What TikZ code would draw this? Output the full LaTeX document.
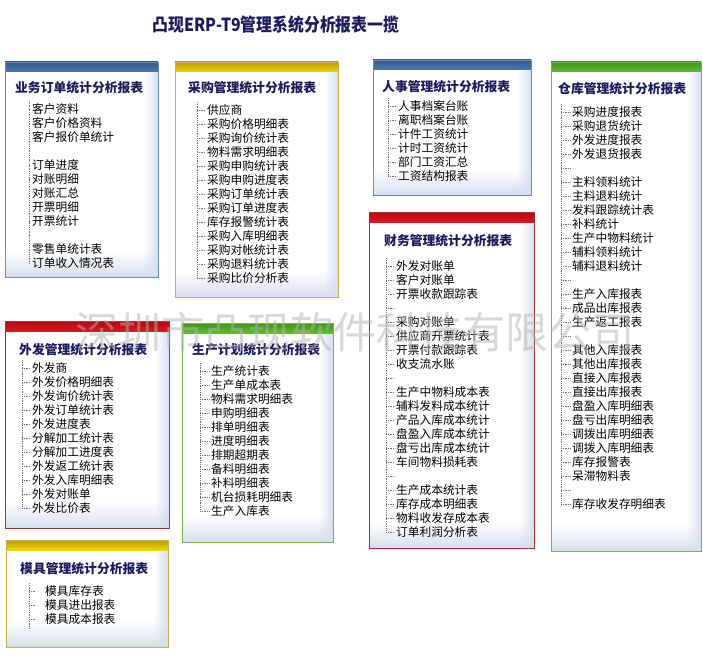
\documentclass[tikz,border=0pt]{standalone}
\usepackage{fontspec}
\setmainfont{Noto Sans CJK SC}
\usetikzlibrary{fadings}

\definecolor{headblue}{HTML}{1A1A5E}
\definecolor{barblue}{HTML}{4A78B4}
\definecolor{baryellow}{HTML}{F2D400}
\definecolor{bargreen}{HTML}{5CC02A}
\definecolor{barred}{HTML}{E4121C}
\definecolor{lineblue}{HTML}{6A8AB4}
\definecolor{lineyellow}{HTML}{C8B24A}
\definecolor{linegreen}{HTML}{6EB84E}
\definecolor{linered}{HTML}{A03434}
\definecolor{panelshade}{HTML}{D6DFF0}

\newcommand{\panel}[6]{%
  \fill[white] (#1,#2) rectangle (#3,#4);
  \fill[panelshade, path fading=north] (#1,#4-26) rectangle (#3,#4);
  \fill[panelshade, path fading=west] (#3-14,#2) rectangle (#3,#4);
  \shade[top color=#5!75!black, bottom color=#5] (#1,#2) rectangle (#3,#2+10);
  \draw[#6] (#1,#2) rectangle (#3,#4);
}

\newcommand{\reportlist}[6][]{%
  \foreach \itm [count=\i] in {#6} {
    \node[item, #1] (#2-\i) at (#4,#5+14*\i-14) {\itm};
    \draw[tree] (#3,#5+14*\i-14) -- (#2-\i.west);
    \xdef\lastrow{\i}
  }
  \draw[tree] (#3,#5-8) -- (#3,#5+14*\lastrow-14);
}

\begin{document}
\begin{tikzpicture}[x=1pt, y=-1pt,
  title/.style={text=headblue, font=\fontsize{18}{20}\selectfont\bfseries, xscale=0.88},
  head/.style={anchor=west, inner sep=0pt, text=headblue, font=\fontsize{12.8}{14}\selectfont\bfseries},
  item/.style={anchor=west, inner xsep=1pt, inner ysep=0pt, font=\fontsize{11.7}{13}\selectfont},
  tree/.style={black!55, line width=0.6pt, dash pattern=on 0.6pt off 1.2pt},
  watermark/.style={text=black!30, text opacity=0.5, font=\fontsize{43}{45}\selectfont}]
\useasboundingbox (0,0) rectangle (703,655);

\node[title] (title) at (276,25) {凸现ERP-T9管理系统分析报表一揽};

\panel{5}{62}{158}{277}{barblue}{lineblue}
\node[head] (order) at (15,88) {业务订单统计分析报表};
\reportlist[inner xsep=2pt]{order}{29}{30}{109}{客户资料,客户价格资料,客户报价单统计,{},订单进度,对账明细,对账汇总,开票明细,开票统计,{},零售单统计表,订单收入情况表}

\panel{175}{62}{338}{297}{baryellow}{lineyellow}
\node[head] (purchase) at (188,88) {采购管理统计分析报表};
\reportlist{purchase}{197}{206}{110}{供应商,采购价格明细表,采购询价统计表,物料需求明细表,采购申购统计表,采购申购进度表,采购订单统计表,采购订单进度表,库存报警统计表,采购入库明细表,采购对帐统计表,采购退料统计表,采购比价分析表}

\panel{373}{60}{531}{195}{barblue}{lineblue}
\node[head] (hr) at (382,87) {人事管理统计分析报表};
\reportlist{hr}{388}{397}{106}{人事档案台账,离职档案台账,计件工资统计,计时工资统计,部门工资汇总,工资结构报表}

\panel{551}{62}{701}{551}{bargreen}{linegreen}
\node[head] (store) at (558,89) {仓库管理统计分析报表};
\reportlist{store}{561}{571}{112}{采购进度报表,采购退货统计,外发进度报表,外发退货报表,{},主料领料统计,主料退料统计,发料跟踪统计表,补料统计,生产中物料统计,辅料领料统计,辅料退料统计,{},生产入库报表,成品出库报表,生产返工报表,{},其他入库报表,其他出库报表,直接入库报表,直接出库报表,盘盈入库明细表,盘亏出库明细表,调拨出库明细表,调拨入库明细表,库存报警表,呆滞物料表,{},库存收发存明细表}

\panel{369}{212}{534}{548}{barred}{linered}
\node[head] (finance) at (384,241) {财务管理统计分析报表};
\reportlist{finance}{386}{395}{266}{外发对账单,客户对账单,开票收款跟踪表,{},采购对账单,供应商开票统计表,开票付款跟踪表,收支流水账,{},生产中物料成本表,辅料发料成本统计,产品入库成本统计,盘盈入库成本统计,盘亏出库成本统计,车间物料损耗表,{},生产成本统计表,库存成本明细表,物料收发存成本表,订单利润分析表}

\panel{5}{321}{169}{528}{barred}{linered}
\node[head] (outsource) at (19,350) {外发管理统计分析报表};
\reportlist{outsource}{22}{31}{368}{外发商,外发价格明细表,外发询价统计表,外发订单统计表,外发进度表,分解加工统计表,分解加工进度表,外发返工统计表,外发入库明细表,外发对账单,外发比价表}

\panel{182}{323}{333}{542}{bargreen}{linegreen}
\node[head] (plan) at (192,350) {生产计划统计分析报表};
\reportlist{plan}{200}{210}{371}{生产统计表,生产单成本表,物料需求明细表,申购明细表,排单明细表,进度明细表,排期超期表,备料明细表,补料明细表,机台损耗明细表,生产入库表}

\panel{6}{540}{168}{647}{baryellow}{lineyellow}
\node[head] (mould) at (20,569) {模具管理统计分析报表};
\reportlist[inner xsep=10pt]{mould}{29}{35}{591}{模具库存表,模具进出报表,模具成本报表}
\draw[tree] (29,619) -- (29,629);

\node[watermark] (mark) at (355,332) {深圳市凸现软件科技有限公司};
\end{tikzpicture}
\end{document}
